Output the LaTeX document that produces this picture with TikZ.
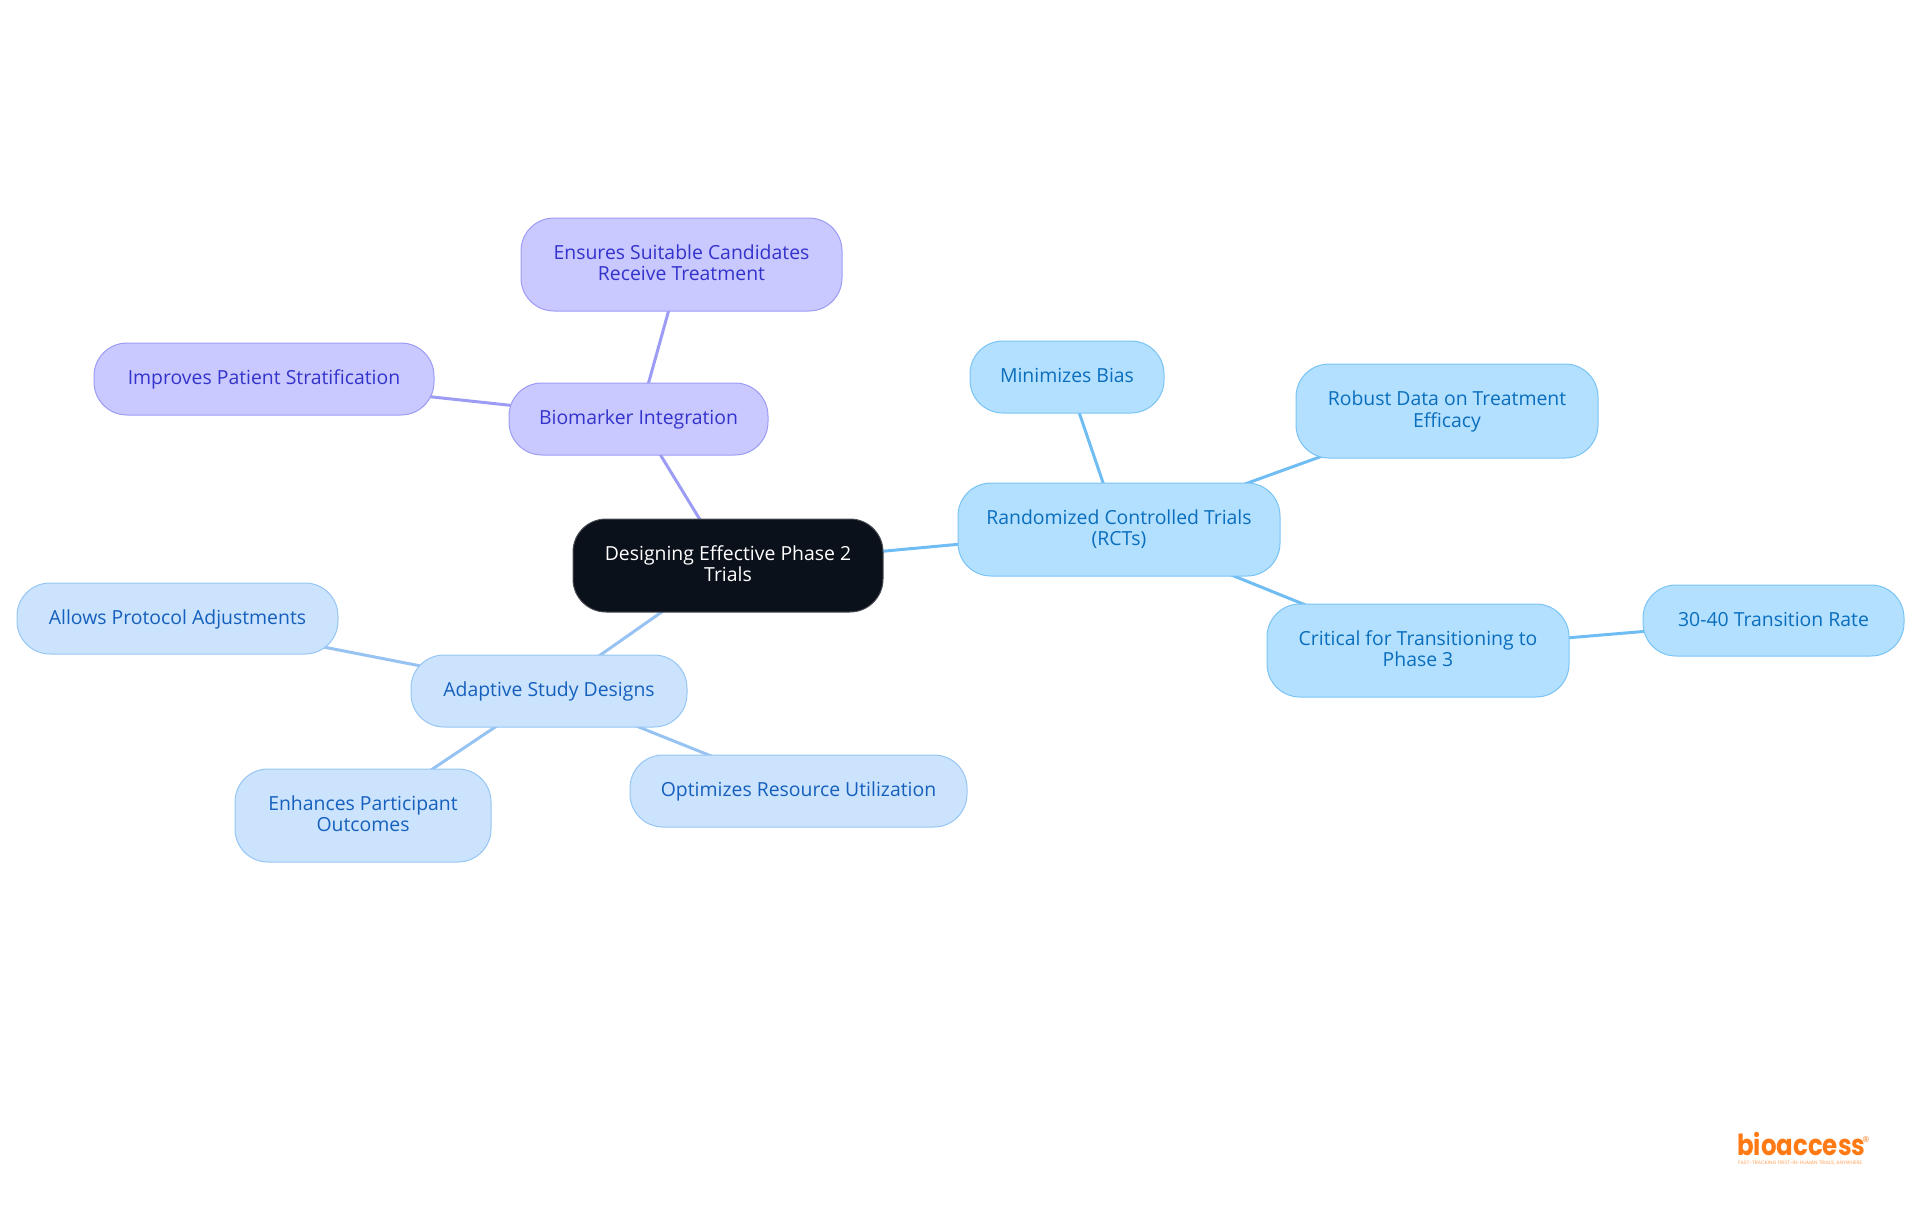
\documentclass[tikz,border=0pt]{standalone}
\usepackage{graphicx}
\usepackage{fontspec}
\setmainfont{Open Sans}
\newfontfamily\logofont{Poppins}
\usetikzlibrary{backgrounds}
\definecolor{blueF}{HTML}{B3E0FF}\definecolor{blueD}{HTML}{7AC4F5}\definecolor{blueT}{HTML}{0A6EBD}\definecolor{blueE}{HTML}{6FBDF2}
\definecolor{paleF}{HTML}{CCE3FD}\definecolor{paleD}{HTML}{96C6F5}\definecolor{paleT}{HTML}{1560BD}\definecolor{paleE}{HTML}{96C3F2}
\definecolor{violF}{HTML}{C9C9FF}\definecolor{violD}{HTML}{9C9CF5}\definecolor{violT}{HTML}{3333CC}\definecolor{violE}{HTML}{9C9CF5}
\definecolor{rootF}{HTML}{0B111A}\definecolor{logoC}{HTML}{FF7A14}
\tikzset{x=1pt,y=-1pt,
 mm/.style={draw,line width=1pt,rounded corners=33pt,inner sep=0pt,align=center,text height=14.5pt,text depth=3.5pt,font=\fontsize{19.4}{21.2}\selectfont},
 twoline/.style={text height=35.7pt},
 rootbox/.style={mm,fill=rootF,draw=rootF!75!white,text=white},
 bluebox/.style={mm,fill=blueF,draw=blueD,text=blueT},
 palebox/.style={mm,fill=paleF,draw=paleD,text=paleT},
 violbox/.style={mm,fill=violF,draw=violD,text=violT},
 link/.style={line width=3pt}}
% #1 style, #2 name, #3 x0, #4 y0, #5 x1, #6 y1, #7 text
\newcommand{\mmnode}[7]{\node[#1,minimum width=#5pt-#3pt,minimum height=#6pt-#4pt] (#2) at ({(#3+#5)/2},{(#4+#6)/2}) {#7};}
\begin{document}
\begin{tikzpicture}
\useasboundingbox (0,0) rectangle (1920,1215);
\mmnode{rootbox,twoline}{root}{573}{519}{883}{612}{Designing Effective Phase 2\\Trials}
\mmnode{violbox}{bio}{509}{383}{768}{455}{Biomarker Integration}
\mmnode{violbox,twoline}{ens}{521}{218}{842}{311}{Ensures Suitable Candidates\\Receive Treatment}
\mmnode{violbox}{imp}{94}{343}{434}{415}{Improves Patient Stratification}
\mmnode{bluebox,twoline}{rct}{958}{483}{1280}{576}{Randomized Controlled Trials\\(RCTs)}
\mmnode{bluebox}{min}{970}{341}{1164}{413}{Minimizes Bias}
\mmnode{bluebox,twoline}{rob}{1296}{364}{1598}{458}{Robust Data on Treatment\\Efficacy}
\mmnode{bluebox,twoline}{cri}{1267}{604}{1569}{697}{Critical for Transitioning to\\Phase 3}
\mmnode{bluebox}{rate}{1643}{585}{1904}{656}{30-40 Transition Rate}
\mmnode{palebox}{ada}{411}{655}{687}{727}{Adaptive Study Designs}
\mmnode{palebox}{all}{17}{583}{338}{654}{Allows Protocol Adjustments}
\mmnode{palebox,twoline}{enh}{235}{769}{491}{862}{Enhances Participant\\Outcomes}
\mmnode{palebox}{opt}{630}{755}{967}{827}{Optimizes Resource Utilization}
\begin{scope}[on background layer]
\draw[link,violE] (root.center)--(bio.center);
\draw[link,violE] (bio.center)--(ens.center);
\draw[link,violE] (bio.center)--(imp.center);
\draw[link,blueE] (root.center)--(rct.center);
\draw[link,blueE] (rct.center)--(min.center);
\draw[link,blueE] (rct.center)--(rob.center);
\draw[link,blueE] (rct.center)--(cri.center);
\draw[link,blueE] (cri.center)--(rate.center);
\draw[link,paleE] (root.center)--(ada.center);
\draw[link,paleE] (ada.center)--(all.center);
\draw[link,paleE] (ada.center)--(enh.center);
\draw[link,paleE] (ada.center)--(opt.center);
\end{scope}
\node[anchor=base west,inner sep=0pt,text=logoC,font=\logofont\bfseries\fontsize{29}{29}\selectfont] (logo) at (1737,1155) {\scalebox{0.845}[1]{bioaccess}};
\node[anchor=center,inner sep=0pt,text=logoC,font=\fontsize{8}{8}\selectfont] (reg) at (1866,1140) {®};
\node[anchor=base west,inner sep=0pt,text=logoC!70!white,font=\logofont\fontsize{4.9}{5}\selectfont] (tag) at (1738,1164) {FAST-TRACKING FIRST-IN-HUMAN TRIALS, ANYWHERE};
\end{tikzpicture}
\end{document}
